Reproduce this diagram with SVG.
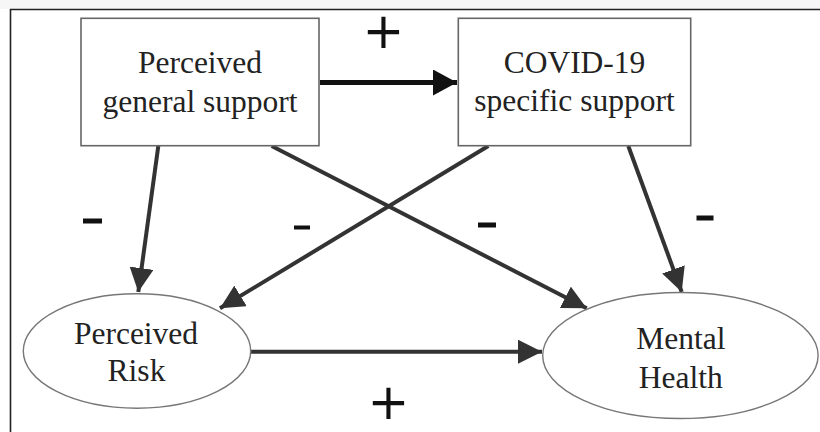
<svg xmlns="http://www.w3.org/2000/svg" width="820" height="432" viewBox="0 0 820 432">
<style>
.box{fill:#fff;stroke:#666;stroke-width:1.6}
.ell{fill:#fff;stroke:#777;stroke-width:1.4}
.lbl{font-family:"Liberation Serif","Times New Roman",serif;font-size:31.5px;fill:#222;text-anchor:middle}
.sign{font-family:"DejaVu Sans","Liberation Sans",sans-serif;font-size:50px;fill:#111;text-anchor:middle}
.edge{stroke:#333;stroke-width:4;fill:none;marker-end:url(#ah)}
.dash{fill:#111}
</style>
<defs>
<marker id="ah" markerUnits="userSpaceOnUse" markerWidth="24" markerHeight="24" refX="24" refY="12" orient="auto" viewBox="0 0 24 24">
<path d="M0,0 L24,12 L0,24 z" fill="#333"/>
</marker>
<marker id="ahk" markerUnits="userSpaceOnUse" markerWidth="24" markerHeight="26" refX="24" refY="13" orient="auto" viewBox="0 0 24 26">
<path d="M0,0 L24,13 L0,26 z" fill="#111"/>
</marker>
</defs>
<rect x="0" y="0" width="820" height="432" fill="#fff"/>
<rect x="0" y="0" width="820" height="9" fill="#f6f6f6"/>
<g id="frame">
<line x1="10" y1="9.5" x2="820" y2="9.5" stroke="#222" stroke-width="1.6"/>
<line x1="10.5" y1="9" x2="10.5" y2="432" stroke="#222" stroke-width="1.6"/>
</g>
<g id="connectors">
<line x1="320" y1="82.5" x2="457" y2="82.5" stroke="#111" stroke-width="5" marker-end="url(#ahk)"/>
<line class="edge" x1="158.3" y1="146" x2="138.3" y2="292"/>
<line class="edge" x1="271.7" y1="146" x2="586.7" y2="308.3"/>
<line class="edge" x1="488.3" y1="146" x2="220" y2="308.3"/>
<line class="edge" x1="628.3" y1="146" x2="681.7" y2="292"/>
<line class="edge" x1="251" y1="351.7" x2="542" y2="351.7" stroke-width="4.5"/>
</g>
<g id="signs">
<text class="sign" x="383.5" y="47.5">+</text>
<text class="sign" x="388.5" y="419">+</text>
<rect class="dash" x="83" y="218.5" width="19" height="5"/>
<rect class="dash" x="294" y="225.5" width="16" height="4"/>
<rect class="dash" x="478" y="222.5" width="18" height="5"/>
<rect class="dash" x="696.5" y="215.5" width="17" height="5"/>
</g>
<g id="n-general">
<rect class="box" x="81" y="18.3" width="238" height="127.4"/>
<text class="lbl" x="200" y="73">Perceived</text>
<text class="lbl" x="200" y="112">general support</text>
</g>
<g id="n-covid">
<rect class="box" x="458.3" y="18.3" width="232.4" height="127.4"/>
<text class="lbl" x="574.5" y="72.5">COVID-19</text>
<text class="lbl" x="574.5" y="110.5">specific support</text>
</g>
<g id="n-risk">
<ellipse class="ell" cx="137" cy="351" rx="113.7" ry="57.2"/>
<text class="lbl" x="136" y="343.5">Perceived</text>
<text class="lbl" x="136.5" y="381">Risk</text>
</g>
<g id="n-mental">
<ellipse class="ell" cx="680.4" cy="355.5" rx="137.7" ry="63"/>
<text class="lbl" x="680.8" y="348.5">Mental</text>
<text class="lbl" x="680.8" y="387.5">Health</text>
</g>
</svg>
